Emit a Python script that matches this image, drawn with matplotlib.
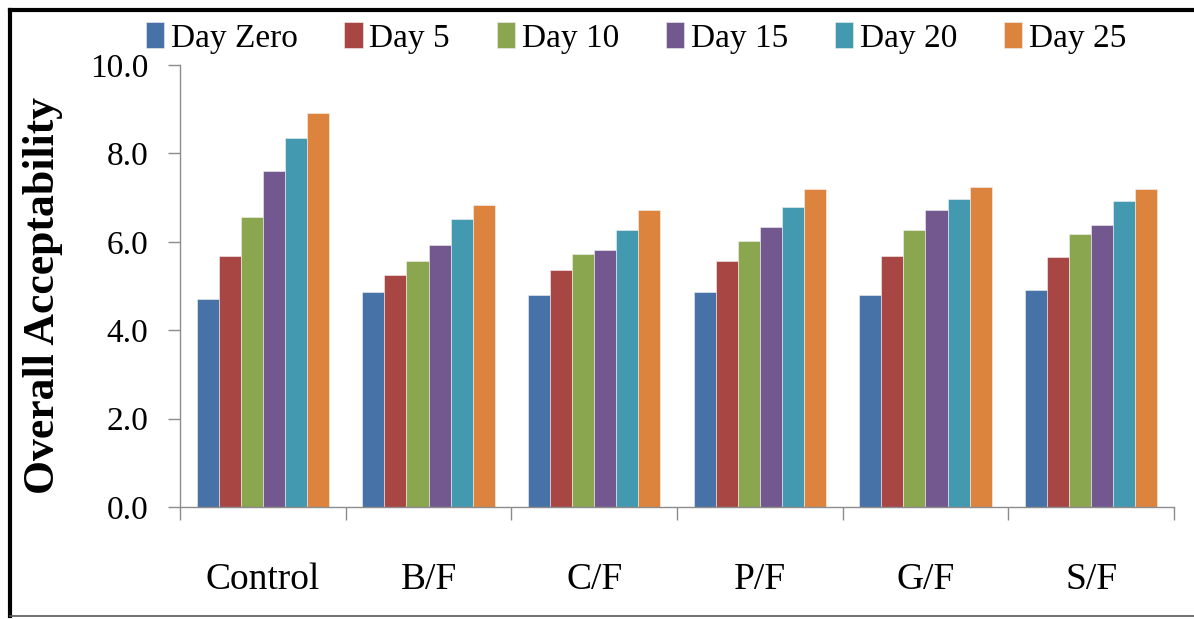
import numpy as np
import matplotlib
matplotlib.use("Agg")
import matplotlib.pyplot as plt
from matplotlib.lines import Line2D

# Overall acceptability scores by treatment and storage day
categories = ["Control", "B/F", "C/F", "P/F", "G/F", "S/F"]
series_names = ["Day Zero", "Day 5", "Day 10", "Day 15", "Day 20", "Day 25"]
day_zero = [4.71, 4.87, 4.79, 4.87, 4.79, 4.92]
day_5 = [5.69, 5.24, 5.37, 5.57, 5.69, 5.65]
day_10 = [6.55, 5.57, 5.73, 6.01, 6.26, 6.18]
day_15 = [7.61, 5.93, 5.81, 6.34, 6.71, 6.39]
day_20 = [8.34, 6.51, 6.26, 6.79, 6.96, 6.92]
day_25 = [8.91, 6.83, 6.71, 7.19, 7.25, 7.20]
series_values = [day_zero, day_5, day_10, day_15, day_20, day_25]
y_ticks = [0.0, 2.0, 4.0, 6.0, 8.0, 10.0]

colors = ["#4672A8", "#A84644", "#8AA64E", "#72588F", "#4299B0", "#DC843E"]
serif = ["Liberation Serif", "DejaVu Serif"]

W, H = 1194, 619
fig = plt.figure(figsize=(W / 100, H / 100), dpi=100)
ax = fig.add_axes([180 / W, 1 - 507 / H, (1174 - 180) / W, (507 - 65) / H])

n = len(series_names)
bar_w = 1.0 / (n + 1.5)
x = np.arange(len(categories))
for i, (name, vals, c) in enumerate(zip(series_names, series_values, colors)):
    offs = (i - (n - 1) / 2) * bar_w
    ax.bar(x + offs, vals, width=bar_w, color=c, label=name,
           edgecolor="#f2f2f2", linewidth=0.4, zorder=2)

ax.set_xlim(-0.5, len(categories) - 0.5)
ax.set_ylim(0, 10)

# category boundaries carry the tick marks, labels sit at category centres
ax.set_xticks(np.arange(-0.5, len(categories), 1.0))
ax.set_xticklabels([])
ax.set_xticks(x, minor=True)
ax.set_xticklabels(categories, minor=True, fontfamily=serif, fontsize=27)
ax.tick_params(axis="x", which="minor", length=0, pad=40)
ax.tick_params(axis="x", which="major", length=9, width=1.0,
               color="#8c8c8c", direction="out")

ax.set_yticks(y_ticks)
ax.set_yticklabels([f"{v:.1f}" for v in y_ticks], fontfamily=serif, fontsize=24)
ax.tick_params(axis="y", length=9, width=1.0, color="#8c8c8c",
               direction="out", pad=14)

for side in ("top", "right"):
    ax.spines[side].set_visible(False)
for side in ("left", "bottom"):
    ax.spines[side].set_color("#8c8c8c")
    ax.spines[side].set_linewidth(1.0)

fig.text(43 / W, 1 - 296 / H, "Overall Acceptability", rotation=90,
         ha="center", va="center", fontfamily=serif, fontweight="bold",
         fontsize=31.5)

leg = fig.legend(loc="center", bbox_to_anchor=(636 / W, 1 - 38 / H),
                 ncol=6, frameon=False, prop={"family": serif, "size": 24},
                 handlelength=0.55, handleheight=0.8, handletextpad=0.2,
                 columnspacing=1.4, borderaxespad=0)

# outer frame
fig.add_artist(Line2D([9.5 / W, 9.5 / W], [1 - 616 / H, 1 - 9.5 / H],
                      transform=fig.transFigure, color="black", linewidth=3.0))
fig.add_artist(Line2D([9.5 / W, 1.0], [1 - 9.5 / H, 1 - 9.5 / H],
                      transform=fig.transFigure, color="black", linewidth=3.0))
fig.add_artist(Line2D([9.5 / W, 1.0], [1 - 616 / H, 1 - 616 / H],
                      transform=fig.transFigure, color="#555555", linewidth=1.2))

fig.savefig("out.png", dpi=100)
